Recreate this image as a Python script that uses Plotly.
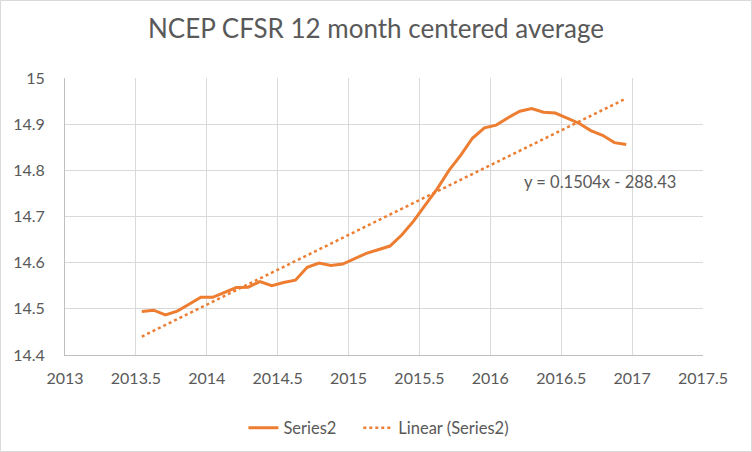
import numpy as np
import plotly.graph_objects as go

# Monthly 12-month centered average (July 2013 .. Dec 2016)
start_year = 2013.5417
series2 = [14.494, 14.497, 14.487, 14.495, 14.510, 14.525, 14.525, 14.536, 14.546, 14.547,
           14.559, 14.550, 14.557, 14.562, 14.590, 14.599, 14.594, 14.597, 14.608, 14.620,
           14.628, 14.636, 14.660, 14.690, 14.725, 14.760, 14.800, 14.833, 14.870, 14.892,
           14.898, 14.914, 14.928, 14.934, 14.926, 14.924, 14.913, 14.902, 14.886, 14.876,
           14.860, 14.856]
years = [start_year + i / 12 for i in range(len(series2))]

x_ticks = [2013, 2013.5, 2014, 2014.5, 2015, 2015.5, 2016, 2016.5, 2017, 2017.5]
x_tick_labels = ["2013", "2013.5", "2014", "2014.5", "2015", "2015.5", "2016", "2016.5", "2017", "2017.5"]
y_ticks = [14.4, 14.5, 14.6, 14.7, 14.8, 14.9, 15.0]
y_tick_labels = ["14.4", "14.5", "14.6", "14.7", "14.8", "14.9", "15"]
equation_text = "y = 0.1504x - 288.43"

# linear trendline (least squares fit of the series)
slope, intercept = np.polyfit(years, series2, 1)
trend_x = [years[0], years[-1]]
trend_y = [slope * v + intercept for v in trend_x]

orange = "#ED7D31"
grey_text = "#595959"
font_family = "Lato, 'Open Sans', Arial, sans-serif"

fig = go.Figure()
fig.add_trace(go.Scatter(x=years, y=series2, mode="lines", name="Series2&nbsp;&nbsp;&nbsp;&nbsp;",
                         line=dict(color=orange, width=3)))
fig.add_trace(go.Scatter(x=trend_x, y=trend_y, mode="lines", name="Linear (Series2)",
                         line=dict(color=orange, width=2.5, dash="dot")))

fig.add_annotation(x=2016.77, y=14.775, text=equation_text, showarrow=False,
                   font=dict(size=16.5, color=grey_text, family=font_family))

fig.update_layout(
    width=752, height=452,
    paper_bgcolor="white", plot_bgcolor="white",
    margin=dict(l=65, r=49, t=78, b=97, autoexpand=False),
    title=dict(text="NCEP CFSR 12 month centered average", x=0.5, xanchor="center",
               y=0.935, yanchor="middle",
               font=dict(size=26, color=grey_text, family=font_family)),
    font=dict(family=font_family, color=grey_text, size=15),
    showlegend=True,
    legend=dict(orientation="h", x=0.492, xanchor="center", y=-0.2, yanchor="top",
                font=dict(size=16.5, color=grey_text)),
    xaxis=dict(range=[2013, 2017.5], tickvals=x_ticks, ticktext=x_tick_labels,
               showgrid=True, gridcolor="#d9d9d9", gridwidth=1,
               showline=True, linecolor="#bfbfbf", linewidth=1,
               zeroline=False, ticks="", ticklabelstandoff=9, automargin=False,
               tickfont=dict(size=16, color=grey_text)),
    yaxis=dict(range=[14.4, 15.0], tickvals=y_ticks, ticktext=y_tick_labels,
               showgrid=True, gridcolor="#d9d9d9", gridwidth=1,
               showline=True, linecolor="#bfbfbf", linewidth=1,
               zeroline=False, ticks="", ticklabelstandoff=16, automargin=False,
               tickfont=dict(size=16, color=grey_text)),
)

# chart border
fig.add_shape(type="rect", xref="paper", yref="paper",
              x0=-64.5 / 638, x1=1 + 48.5 / 638, y0=-96.5 / 277, y1=1 + 77.5 / 277,
              line=dict(color="#d9d9d9", width=1), layer="above")

fig.write_html("out.html", config={"displayModeBar": False},
               post_script="document.body.style.margin='0';document.body.style.overflow='hidden';")
